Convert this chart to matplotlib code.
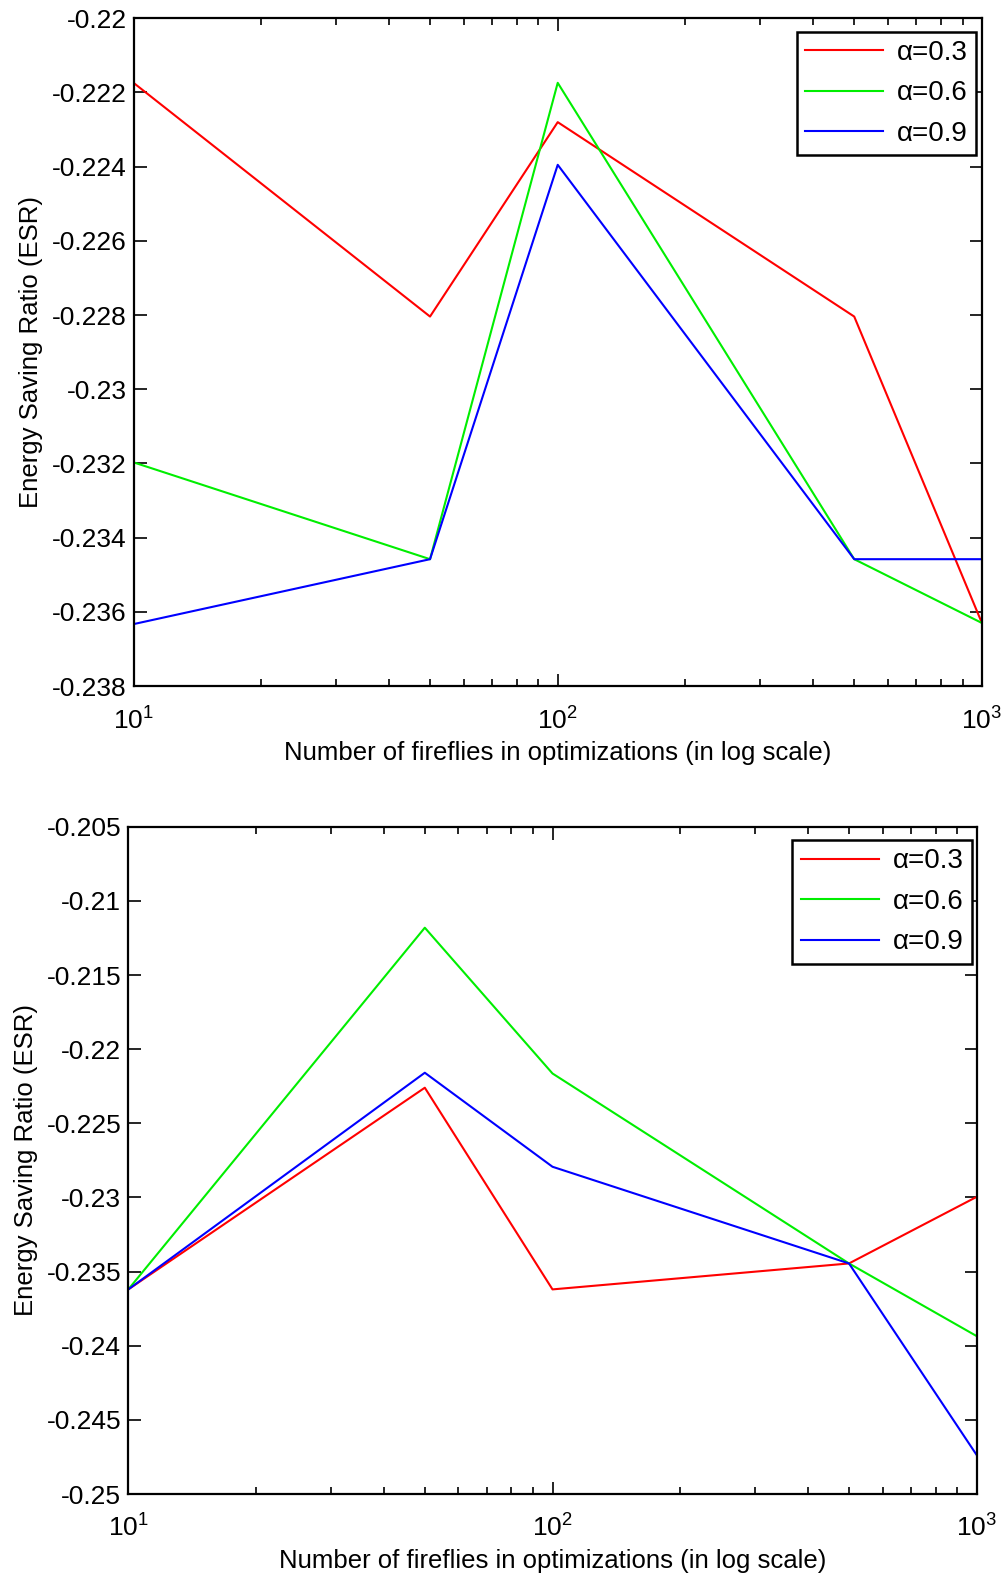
import numpy as np
import matplotlib
matplotlib.use("Agg")
import matplotlib.pyplot as plt
from matplotlib.ticker import LogLocator, NullFormatter

plt.rcParams['font.family'] = ['Liberation Sans', 'DejaVu Sans']
plt.rcParams['mathtext.fontset'] = 'custom'
plt.rcParams['mathtext.rm'] = 'Liberation Sans'
plt.rcParams['mathtext.it'] = 'Liberation Sans'

# Numero de luciernagas
n_fireflies = [10, 50, 100, 500, 1000]
etiquetas = ['α=0.3', 'α=0.6', 'α=0.9']
colores = ['#ff0000', '#00ee00', '#0000ff']

# Grafico superior
esr_sup_03 = [-0.22174, -0.22804, -0.2228, -0.22804, -0.2363]
esr_sup_06 = [-0.23197, -0.23458, -0.22174, -0.23458, -0.2363]
esr_sup_09 = [-0.23633, -0.23458, -0.22395, -0.23458, -0.23458]
yticks_sup = [-0.238, -0.236, -0.234, -0.232, -0.23, -0.228, -0.226, -0.224, -0.222, -0.22]
ytick_labels_sup = ['-0.238', '-0.236', '-0.234', '-0.232', '-0.23', '-0.228', '-0.226', '-0.224', '-0.222', '-0.22']

# Grafico inferior
esr_inf_03 = [-0.2362, -0.2226, -0.2362, -0.23445, -0.22996]
esr_inf_06 = [-0.2362, -0.21181, -0.22164, -0.23445, -0.23935]
esr_inf_09 = [-0.2362, -0.22159, -0.22793, -0.23445, -0.24737]
yticks_inf = [-0.25, -0.245, -0.24, -0.235, -0.23, -0.225, -0.22, -0.215, -0.21, -0.205]
ytick_labels_inf = ['-0.25', '-0.245', '-0.24', '-0.235', '-0.23', '-0.225', '-0.22', '-0.215', '-0.21', '-0.205']

fig = plt.figure(figsize=(10.04, 15.75), dpi=100)
ax1 = fig.add_axes([0.133, 0.5644, 0.845, 0.424])
ax2 = fig.add_axes([0.1278, 0.0514, 0.845, 0.4237])


def dibujar(ax, series, yticks, ylabels, leg_anchor):
    for s, c, lab in zip(series, colores, etiquetas):
        ax.plot(n_fireflies, s, color=c, lw=1.5, label=lab)
    ax.set_xscale('log')
    ax.set_xlim(10, 1000)
    ax.set_ylim(yticks[0], yticks[-1])
    ax.set_yticks(yticks)
    ax.set_yticklabels(ylabels)
    ax.xaxis.set_major_locator(LogLocator(base=10))
    ax.xaxis.set_minor_locator(LogLocator(base=10, subs=np.arange(2, 10)))
    ax.xaxis.set_minor_formatter(NullFormatter())
    ax.tick_params(which='both', direction='in', top=True, right=True, labelsize=19, width=1.2)
    ax.tick_params(which='major', length=9)
    ax.tick_params(axis='y', which='major', pad=5)
    ax.tick_params(axis='x', which='major', pad=15)
    ax.tick_params(which='minor', length=5)
    for sp in ax.spines.values():
        sp.set_linewidth(1.6)
    ax.set_xlabel('Number of fireflies in optimizations (in log scale)', fontsize=18.5, labelpad=5)
    ax.set_ylabel('Energy Saving Ratio (ESR)', fontsize=18.5, labelpad=6)
    leg = ax.legend(loc='upper right', bbox_to_anchor=leg_anchor, borderaxespad=0,
                    fancybox=False, edgecolor='black', framealpha=1, fontsize=20,
                    handlelength=2.8, handletextpad=0.5, labelspacing=0.52,
                    borderpad=0.3)
    leg.get_frame().set_linewidth(1.8)


dibujar(ax1, [esr_sup_03, esr_sup_06, esr_sup_09], yticks_sup, ytick_labels_sup, (0.993, 0.98))
dibujar(ax2, [esr_inf_03, esr_inf_06, esr_inf_09], yticks_inf, ytick_labels_inf, (0.994, 0.98))

fig.savefig('out.png', dpi=100)
